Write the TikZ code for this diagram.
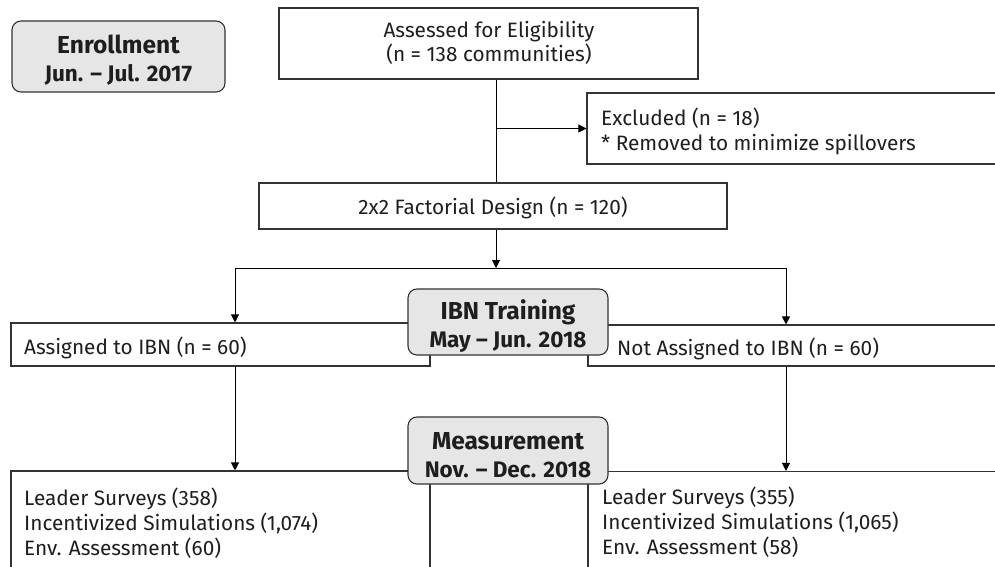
\documentclass[tikz,border=0pt]{standalone}
\usepackage{fontspec}
\setmainfont{Fira Sans}
\usetikzlibrary{arrows.meta}
\definecolor{linec}{HTML}{333333}
\definecolor{txtc}{HTML}{1E1E1E}
\definecolor{hdrfill}{HTML}{E6E6E6}
\newcommand{\hdrtitle}[1]{{\fontsize{24.5}{28}\selectfont #1}}
\tikzset{
  box/.style={draw=linec, line width=1.1pt, fill=white, inner sep=0pt, rectangle},
  hdr/.style={draw=linec, line width=1.1pt, fill=hdrfill, rounded corners=9pt, inner sep=0pt, rectangle},
  hdrtxt/.style={font=\bfseries\fontsize{22.5}{28}\selectfont, text=txtc, inner sep=0pt, align=center},
  txt/.style={font=\fontsize{20.8}{25}\selectfont, text=txtc, inner sep=0pt, align=left},
  ctxt/.style={font=\fontsize{20.8}{24}\selectfont, text=txtc, inner sep=0pt, align=center},
  conn/.style={draw=black, line width=1pt},
  arr/.style={conn, -{Triangle[length=8pt,width=8pt]}}
}
\begin{document}
\begin{tikzpicture}[x=1pt,y=-1pt]
\clip (0,0) rectangle (995,567);
\fill[white] (0,0) rectangle (995,567);
% boxes
\node[box, minimum width=419pt, minimum height=71pt] (assess) at (488.5,43.5) {};
\node[box, minimum width=423pt, minimum height=71pt] (excl) at (798.5,128.5) {};
\node[box, minimum width=468pt, minimum height=46pt] (fact) at (493,206) {};
\node[box, minimum width=419pt, minimum height=43pt] (assigned) at (220.5,344.5) {};
\node[box, minimum width=422pt, minimum height=41pt] (notass) at (799,345.5) {};
\node[box, minimum width=419pt, minimum height=129pt] (measL) at (220.5,535.5) {};
\node[box, minimum width=422pt, minimum height=129pt] (measR) at (799,536) {};
% texts
\node[ctxt] (assessT) at (489,43) {Assessed for Eligibility\\(n = 138 communities)};
\node[txt, anchor=west] (exclT) at (601,131) {Excluded (n = 18)\\* Removed to minimize spillovers};
\node[ctxt] (factT) at (493,208) {2x2 Factorial Design (n = 120)};
\node[txt, anchor=west] (assignedT) at (24,348) {Assigned to IBN (n = 60)};
\node[txt, anchor=west] (notassT) at (617,349) {Not Assigned to IBN (n = 60)};
\node[txt, anchor=west] (measLT) at (24,523) {Leader Surveys (358)\\Incentivized Simulations (1,074)\\Env. Assessment (60)};
\node[txt, anchor=west] (measRT) at (602,522) {Leader Surveys (355)\\Incentivized Simulations (1,065)\\Env. Assessment (58)};
% connectors
\coordinate (trunk) at (496,0);
\coordinate (split) at (496,268);
\coordinate (lx) at (235,268);
\coordinate (rx) at (786,268);
\draw[conn] (assess.south -| trunk) -- (fact.north -| trunk);
\draw[arr] (trunk |- excl.west) -- (excl.west);
\draw[arr] (fact.south -| trunk) -- (split);
\draw[conn] (lx) -- (rx);
\draw[arr] (lx) -- (assigned.north -| lx);
\draw[arr] (rx) -- (notass.north -| rx);
\draw[arr] (assigned.south -| lx) -- (measL.north -| lx);
\draw[arr] (notass.south -| rx) -- (measR.north -| rx);
% header boxes
\node[hdr, minimum width=213pt, minimum height=71pt] (enroll) at (118.5,56.5) {};
\node[hdrtxt] (enrollT) at (118.5,60) {\hdrtitle{Enrollment}\\Jun. -- Jul. 2017};
\node[hdr, minimum width=200pt, minimum height=66pt] (ibn) at (508,322) {};
\node[hdrtxt] (ibnT) at (508,326) {\hdrtitle{IBN Training}\\May -- Jun. 2018};
\node[hdr, minimum width=200pt, minimum height=67pt] (meas) at (508,450.5) {};
\node[hdrtxt] (measT) at (508,455.5) {\hdrtitle{Measurement}\\Nov. -- Dec. 2018};
\end{tikzpicture}
\end{document}
